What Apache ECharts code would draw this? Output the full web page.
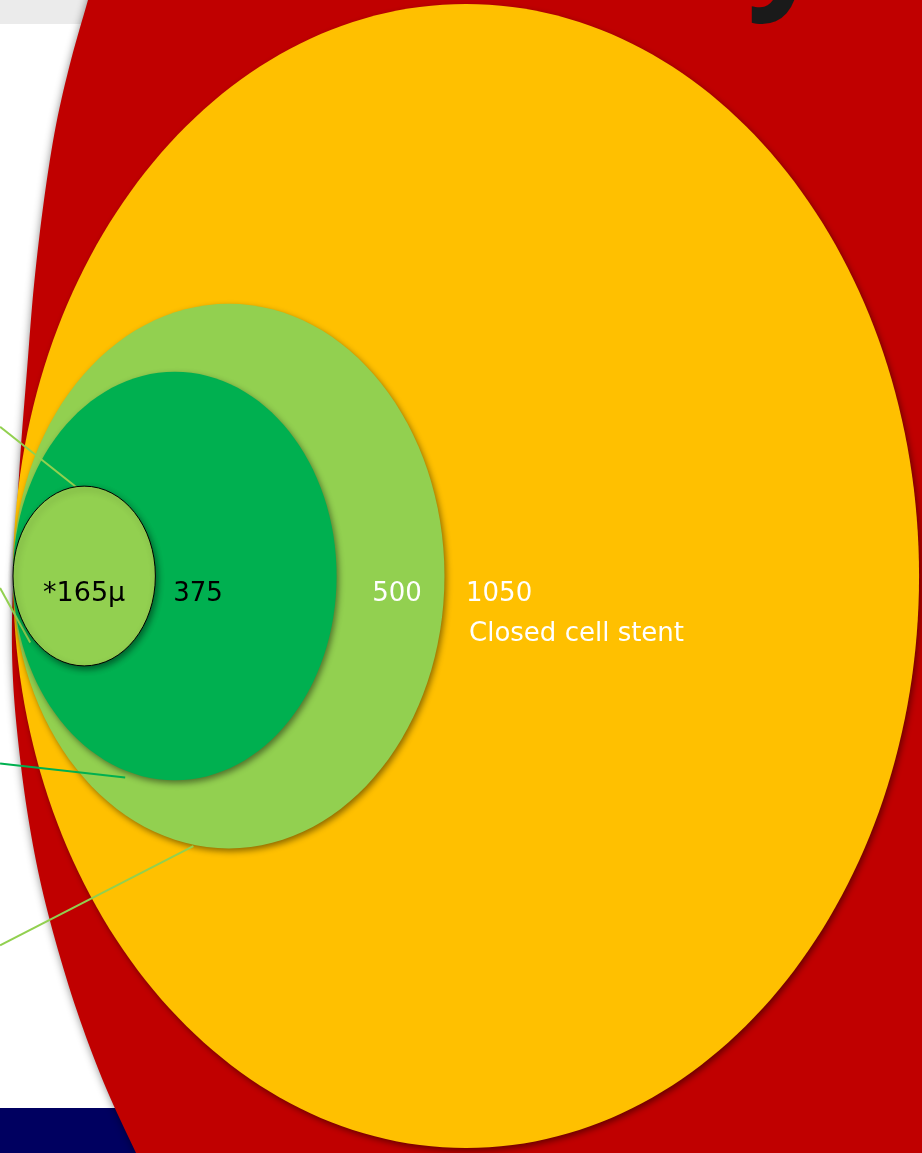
<!DOCTYPE html>
<html>
<head>
<meta charset="utf-8">
<script src="https://cdn.jsdelivr.net/npm/echarts@6/dist/echarts.min.js"></script>
<style>
html,body{margin:0;padding:0;background:#ffffff;}
#chart{width:922px;height:1153px;}
</style>
</head>
<body>
<div id="chart"></div>
<script>
// ---- data (microns) ----
const labels = ['*165\u03bc', '375', '500', '1050'];
const values = [165, 375, 500, 1050];
const subLabels = ['', '', '', 'Closed cell stent'];
// leader lines (chart units: microns from the common left edge / centre line)
const leaderStarts = [[-15, 137], [-15, -11], [-15, -172], [-15, -339]];
const leaderEnds = [[127, 48], [20, -61], [130, -185], [209, -248]];

// ---- styles / layout (not data) ----
const fills = ['#92d050', '#00b050', '#92d050', '#ffc000'];
const strokes = ['#000000', null, null, null];
const textColors = ['#000000', '#000000', '#ffffff', '#ffffff'];
const fontSizes = [27, 26, 26, 26];
const labelAnchor = [0.5, 0.572, 0.89, 0.5];
const labelAlign = ['center', 'center', 'center', 'left'];
const leaderColors = ['#92d050', '#92d050', '#00b050', '#92d050'];

const chart = echarts.init(document.getElementById('chart'));

function renderEllipse(params, api) {
  const i = api.value(1);
  const v = api.value(0);
  const c = api.coord([v / 2, 0]);
  const left = api.coord([0, 0]);
  const s = api.size([v, v]);
  const rx = s[0] / 2, ry = s[1] / 2;
  const fs = fontSizes[i];
  const children = [{
    type: 'ellipse',
    shape: { cx: c[0], cy: c[1], rx: rx, ry: ry },
    style: {
      fill: fills[i],
      stroke: strokes[i] || null,
      lineWidth: strokes[i] ? 1 : 0,
      shadowBlur: 6,
      shadowOffsetX: 2,
      shadowOffsetY: 3,
      shadowColor: 'rgba(0,0,0,0.45)'
    }
  }];
  const lx = left[0] + s[0] * labelAnchor[i];
  const baseY = c[1] + 26;
  children.push({
    type: 'text',
    x: lx,
    y: baseY - 0.3 * fs,
    style: {
      text: labels[i],
      fill: textColors[i],
      font: fs + 'px "DejaVu Sans"',
      align: labelAlign[i],
      verticalAlign: 'middle'
    }
  });
  if (subLabels[i]) {
    children.push({
      type: 'text',
      x: lx + 3,
      y: baseY + 40 - 0.3 * fs,
      style: {
        text: subLabels[i],
        fill: textColors[i],
        font: fs + 'px "DejaVu Sans"',
        align: 'left',
        verticalAlign: 'middle'
      }
    });
  }
  return { type: 'group', children: children };
}

// red background shape outline (decorative slide shape, pixel layout)
const redEdge = [[88,0],[71,60],[56,125],[44,200],[34,285],[27,370],[20,460],[15,550],[12,620],[13,680],[18,740],[27,810],[40,880],[58,950],[80,1020],[106,1088],[136,1153]];
function catmull(pts, steps) {
  const out = [];
  for (let k = 0; k < pts.length - 1; k++) {
    const p0 = pts[Math.max(k - 1, 0)], p1 = pts[k], p2 = pts[k + 1], p3 = pts[Math.min(k + 2, pts.length - 1)];
    for (let t = 0; t < steps; t++) {
      const u = t / steps, u2 = u * u, u3 = u2 * u;
      const f = (a, b, c2, d) => 0.5 * ((2 * b) + (-a + c2) * u + (2 * a - 5 * b + 4 * c2 - d) * u2 + (-a + 3 * b - 3 * c2 + d) * u3);
      out.push([f(p0[0], p1[0], p2[0], p3[0]), f(p0[1], p1[1], p2[1], p3[1])]);
    }
  }
  out.push(pts[pts.length - 1]);
  return out;
}
const redPts = catmull([[105,-60]].concat(redEdge).concat([[166,1216]]), 8);
redPts.push([1000, 1216], [1000, -60]);

const ellipseData = values.map((v, i) => [v, i]);
const bigData = ellipseData.filter(d => d[1] !== 0).sort((a, b) => b[0] - a[0]);
const smallData = ellipseData.filter(d => d[1] === 0);

chart.setOption({
  animation: false,
  backgroundColor: '#ffffff',
  grid: { left: 0, right: 0, top: 0, bottom: 0 },
  xAxis: { type: 'value', min: -15.07, max: 1053.4, show: false },
  yAxis: { type: 'value', min: -529.6, max: 528.7, show: false },
  graphic: [
    { type: 'rect', z: 0, shape: { x: 0, y: 0, width: 922, height: 24 }, style: { fill: '#ebebeb' } },
    { type: 'rect', z: 0, shape: { x: 0, y: 1108, width: 922, height: 45 }, style: { fill: '#000060' } },
    { type: 'polygon', z: 1, shape: { points: redPts },
      style: { fill: '#c00000', shadowBlur: 8, shadowColor: 'rgba(0,0,0,0.45)' } },
    { type: 'text', z: 1, x: 747, y: 20,
      style: { text: 'y', fill: '#1a1a1a', font: 'bold 140px "Open Sans"', align: 'left', verticalAlign: 'bottom' } }
  ],
  series: [
    { type: 'custom', z: 2, coordinateSystem: 'cartesian2d', renderItem: renderEllipse, data: bigData, silent: true },
    { type: 'lines', z: 3, coordinateSystem: 'cartesian2d', silent: true,
      data: leaderStarts.map((s, i) => ({ coords: [s, leaderEnds[i]], lineStyle: { color: leaderColors[i], width: 2, opacity: 1 } })) },
    { type: 'custom', z: 4, coordinateSystem: 'cartesian2d', renderItem: renderEllipse, data: smallData, silent: true }
  ]
});
</script>
</body>
</html>
